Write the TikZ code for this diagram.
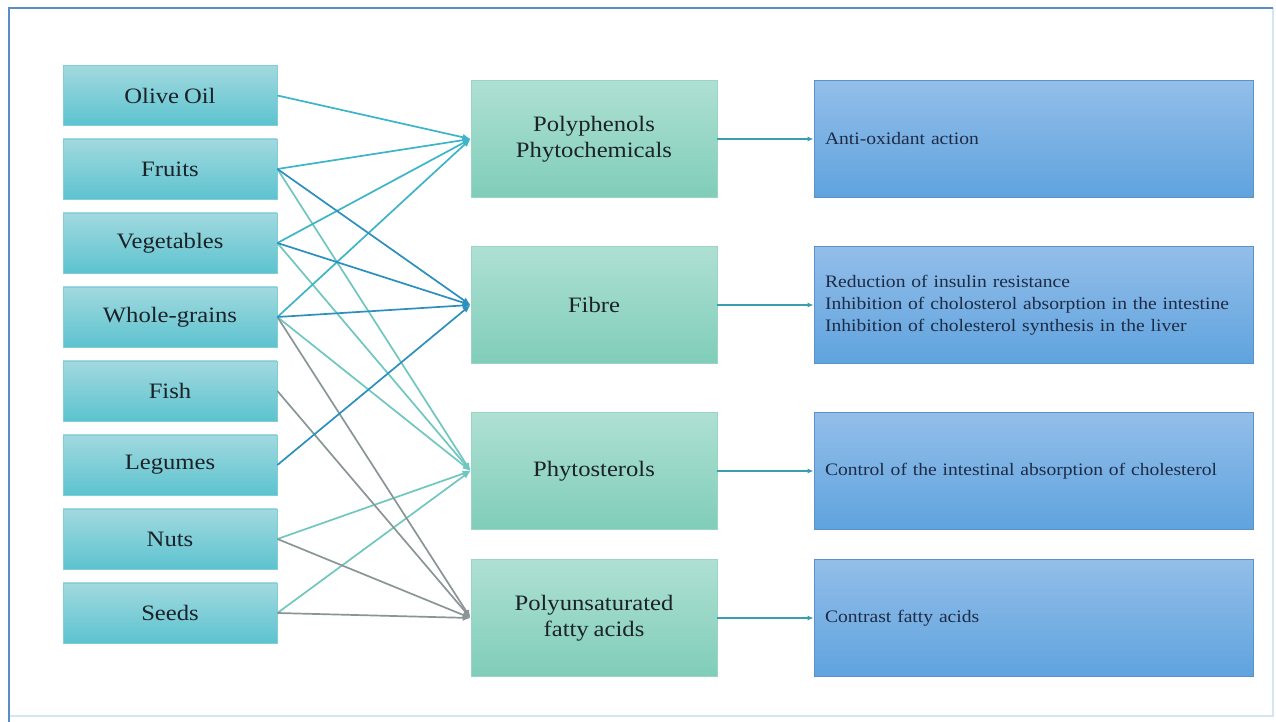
\documentclass[tikz,border=0pt]{standalone}
\usepackage{fontspec}
\setmainfont{Liberation Serif}[FakeStretch=1.12, WordSpace=0.8]
\usetikzlibrary{arrows.meta}
\definecolor{leftTop}{HTML}{A2D9DF}
\definecolor{leftBot}{HTML}{5CC3CF}
\definecolor{leftBorder}{HTML}{7FCED8}
\definecolor{midTop}{HTML}{AEE0D3}
\definecolor{midBot}{HTML}{80CDB9}
\definecolor{midBorder}{HTML}{98D5C5}
\definecolor{rightTop}{HTML}{93BEE9}
\definecolor{rightBot}{HTML}{5FA3DE}
\definecolor{rightBorder}{HTML}{5A92C9}
\definecolor{polyC}{HTML}{3DB5C8}
\definecolor{fibreC}{HTML}{2B8FBF}
\definecolor{phytoC}{HTML}{6FC7BF}
\definecolor{grayC}{HTML}{8A9597}
\definecolor{outC}{HTML}{3A9EAE}
\definecolor{frameC}{HTML}{5A8CC6}
\definecolor{frameLight}{HTML}{D4E6F2}
\definecolor{txtDark}{HTML}{1B2228}
\definecolor{txtNavy}{HTML}{1E2B45}
\tikzset{
  foodbox/.style={draw=leftBorder, line width=0.8pt, top color=leftTop, bottom color=leftBot,
    minimum width=214pt, minimum height=60pt, inner sep=0pt, text=txtDark,
    font=\fontsize{22}{26}\selectfont},
  compbox/.style={draw=midBorder, line width=0.8pt, top color=midTop, bottom color=midBot,
    minimum width=246pt, minimum height=117pt, inner sep=0pt, text=txtDark, align=center,
    font=\fontsize{22}{26}\selectfont},
  effbox/.style={draw=rightBorder, line width=0.8pt, top color=rightTop, bottom color=rightBot,
    minimum width=439pt, minimum height=117pt, inner xsep=11pt, inner ysep=0pt,
    text width=417pt, align=left, text=txtNavy,
    font=\fontsize{17.5}{22}\selectfont},
  link/.style={line width=1.7pt, -{Latex[length=8pt,width=6.5pt]}},
  outlink/.style={line width=1.3pt, draw=outC, -{Latex[length=6pt,width=5pt]}}
}
\begin{document}
\begin{tikzpicture}[x=1pt,y=1pt]
\useasboundingbox (0,0) rectangle (1276,722);
\fill[white] (0,0) rectangle (1276,722);
% frame
\draw[frameLight, line width=1.2pt] (9,6) -- (1273,6) -- (1273,714);
\draw[frameC, line width=2pt] (9,0) -- (9,714) -- (1273,714);

% food boxes
\node[foodbox] (olive) at (170,626.5) {Olive Oil};
\node[foodbox] (fruits) at (170,553) {Fruits};
\node[foodbox] (veg) at (170,479) {Vegetables};
\node[foodbox] (grains) at (170,405) {Whole-grains};
\node[foodbox] (fish) at (170,331) {Fish};
\node[foodbox] (legumes) at (170,257) {Legumes};
\node[foodbox] (nuts) at (170,183) {Nuts};
\node[foodbox] (seeds) at (170,109) {Seeds};

% component boxes
\node[compbox] (poly) at (594,583) {Polyphenols\\Phytochemicals};
\node[compbox] (fibre) at (594,417) {Fibre};
\node[compbox] (phyto) at (594,251) {Phytosterols};
\node[compbox] (pufa) at (594,104) {Polyunsaturated\\fatty acids};

% effect boxes
\node[effbox] (e1) at (1033.5,583) {Anti-oxidant action};
\node[effbox] (e2) at (1033.5,417) {Reduction of insulin resistance\\Inhibition of cholosterol absorption in the intestine\\Inhibition of cholesterol synthesis in the liver};
\node[effbox] (e3) at (1033.5,251) {Control of the intestinal absorption of cholesterol};
\node[effbox] (e4) at (1033.5,104) {Contrast fatty acids};

% connectors to phytosterols (light teal)
\draw[link, phytoC] (fruits.east) -- (phyto.west);
\draw[link, phytoC] (veg.east) -- (phyto.west);
\draw[link, phytoC] (grains.east) -- (phyto.west);
\draw[link, phytoC] (nuts.east) -- (phyto.west);
\draw[link, phytoC] (seeds.east) -- (phyto.west);
% connectors to PUFA (gray)
\draw[link, grayC] (grains.east) -- (pufa.west);
\draw[link, grayC] (fish.east) -- (pufa.west);
\draw[link, grayC] (nuts.east) -- (pufa.west);
\draw[link, grayC] (seeds.east) -- (pufa.west);
% connectors to polyphenols (teal)
\draw[link, polyC] (olive.east) -- (poly.west);
\draw[link, polyC] (fruits.east) -- (poly.west);
\draw[link, polyC] (veg.east) -- (poly.west);
\draw[link, polyC] (grains.east) -- (poly.west);
% connectors to fibre (blue)
\draw[link, fibreC] (fruits.east) -- (fibre.west);
\draw[link, fibreC] (veg.east) -- (fibre.west);
\draw[link, fibreC] (grains.east) -- (fibre.west);
\draw[link, fibreC] (legumes.east) -- (fibre.west);

% outputs
\draw[outlink] (poly.east) -- (e1.west);
\draw[outlink] (fibre.east) -- (e2.west);
\draw[outlink] (phyto.east) -- (e3.west);
\draw[outlink] (pufa.east) -- (e4.west);
\end{tikzpicture}
\end{document}
